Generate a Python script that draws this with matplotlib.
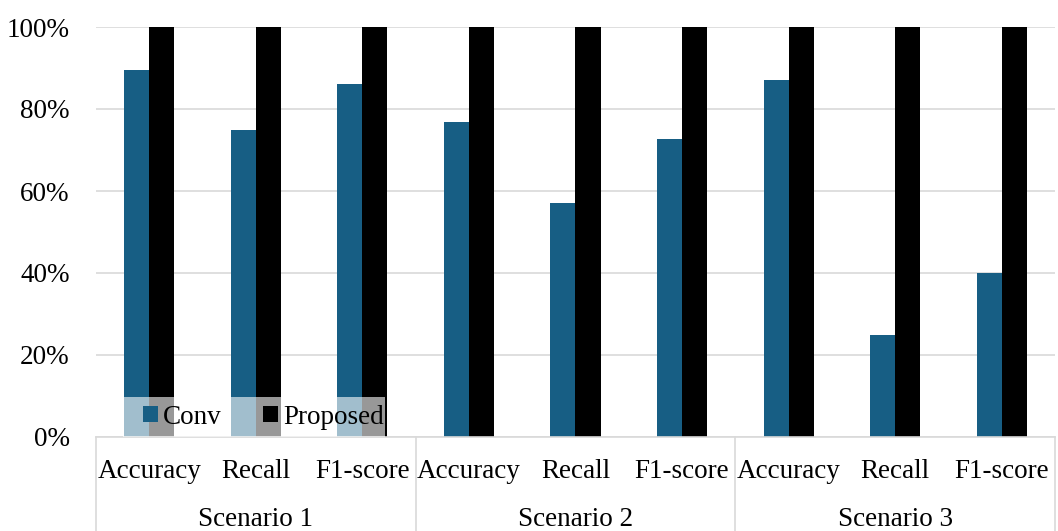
import matplotlib
matplotlib.use("Agg")
import matplotlib.pyplot as plt
import matplotlib.transforms as mtransforms
from matplotlib.patches import Rectangle
import numpy as np

plt.rcParams['font.family'] = ['Liberation Serif', 'DejaVu Serif']

# data (percent)
scenarios = ["Scenario 1", "Scenario 2", "Scenario 3"]
metrics = ["Accuracy", "Recall", "F1-score"]
conv = [89.5, 75.0, 86.0, 76.8, 57.0, 72.7, 87.0, 25.0, 40.0]
proposed = [100, 100, 100, 100, 100, 100, 100, 100, 100]
yticks = [0, 20, 40, 60, 80, 100]

conv_color = "#175E84"
grid_color = "#D9D9D9"

fig = plt.figure(figsize=(10.58, 5.31), dpi=100)
ax = fig.add_axes([96/1058, 1 - 437/531, 959/1058, 410/531])

x = np.arange(len(conv))
w = 0.235
ax.bar(x - w/2, conv, w, color=conv_color, label="Conv", zorder=2)
ax.bar(x + w/2, proposed, w, color="black", label="Proposed", zorder=2)

ax.set_xlim(-0.5, len(conv) - 0.5)
ax.set_ylim(0, 100)
ax.set_yticks(yticks)
ax.set_yticklabels([f"{v}%" for v in yticks])
ax.set_xticks(x)
ax.set_xticklabels(metrics * len(scenarios))
ax.tick_params(axis="both", length=0, labelsize=19.5, colors="black")
ax.tick_params(axis="x", pad=16)
ax.tick_params(axis="y", pad=19)
ax.yaxis.grid(True, color=grid_color, linewidth=1.2, zorder=0)
ax.set_axisbelow(True)
for s in ["top", "right", "left"]:
    ax.spines[s].set_visible(False)
ax.spines["bottom"].set_color(grid_color)
ax.spines["bottom"].set_linewidth(1.2)

# second level of the category axis
trans = mtransforms.blended_transform_factory(ax.transData, ax.transAxes)
n = len(metrics)
for i, name in enumerate(scenarios):
    ax.text(i * n + (n - 1) / 2, -0.2, name, transform=trans,
            ha="center", va="center", fontsize=19.5)
for b in np.arange(len(scenarios) + 1) * n - 0.5:
    ax.plot([b, b], [0, -0.24], transform=trans, color=grid_color,
            linewidth=1.2, clip_on=False)

# legend with semi-transparent white background
ax.add_patch(Rectangle((27/959, 0), 262/959, 40/410, transform=ax.transAxes,
                       facecolor="white", alpha=0.6, edgecolor="none", zorder=4))
ax.legend(loc="center left", bbox_to_anchor=(47/959, 20/410), ncol=2,
          frameon=False, fontsize=19.5, borderpad=0, borderaxespad=0,
          handlelength=0.55, handleheight=0.55, handletextpad=0.2,
          columnspacing=1.5)

fig.savefig("out.png", dpi=100)
